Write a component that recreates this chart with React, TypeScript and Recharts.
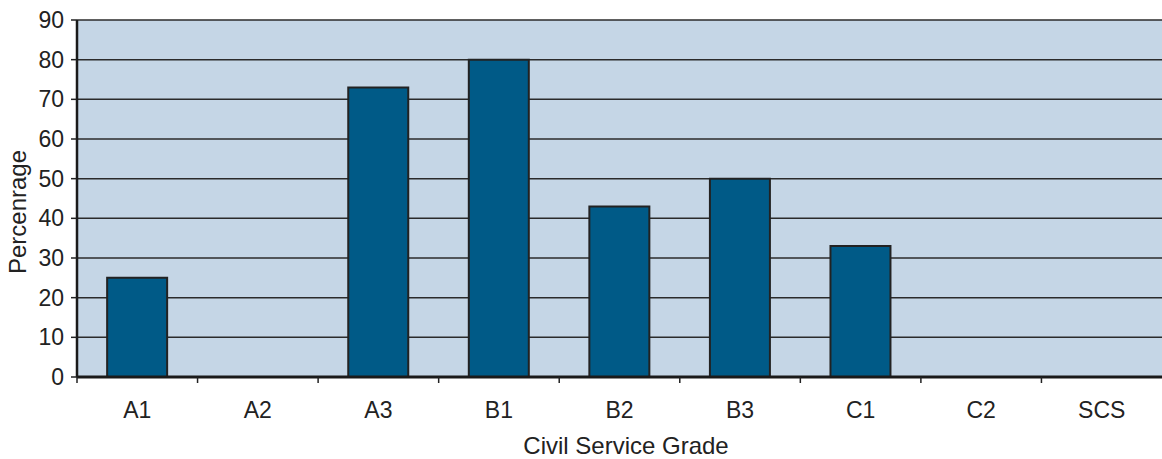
import { BarChart, Bar, XAxis, YAxis, CartesianGrid, Label } from "recharts";

const grades = ["A1", "A2", "A3", "B1", "B2", "B3", "C1", "C2", "SCS"];
const percentages = [25, 0, 73, 80, 43, 50, 33, 0, 0];
const yTicks = [0, 10, 20, 30, 40, 50, 60, 70, 80, 90];

const data = grades.map((grade, i) => ({ grade, value: percentages[i] }));

const FONT = "'Liberation Sans', Arial, sans-serif";

// category label in the middle, tick mark on the left band edge
const GradeTick = ({ x, y, payload }: any) => {
  const edge = x - (payload.offset || 0);
  return (
    <g>
      <line x1={edge} y1={y - 8} x2={edge} y2={y - 2} stroke="#222" strokeWidth={1.5} />
      <text x={x} y={y + 33} textAnchor="middle" fontSize={23} fill="#222" fontFamily={FONT}>
        {payload.value}
      </text>
    </g>
  );
};

const YTitle = () => (
  <text
    transform="translate(17,212) rotate(-90)"
    textAnchor="middle"
    dominantBaseline="central"
    fontSize={24}
    fill="#222"
    fontFamily={FONT}
  >
    Percenrage
  </text>
);

const XTitle = () => (
  <text x={626} y={454} textAnchor="middle" fontSize={24} fill="#222" fontFamily={FONT}>
    Civil Service Grade
  </text>
);

const App = () => {
  return (
    <div style={{ position: "absolute", left: 0, top: 0, background: "#fff" }}>
      <BarChart
        width={1162}
        height={459}
        data={data}
        margin={{ top: 20, right: 0, left: 0, bottom: 0 }}
        barCategoryGap="25%"
      >
        <CartesianGrid
          vertical={false}
          stroke="#2b2b2b"
          strokeWidth={1.5}
          fill="#c5d6e6"
          fillOpacity={1}
          horizontalValues={yTicks}
        />
        <XAxis
          dataKey="grade"
          height={82}
          axisLine={{ stroke: "#1a1a1a", strokeWidth: 3 }}
          tickLine={false}
          tick={<GradeTick />}
          interval={0}
        >
          <Label content={<XTitle />} />
        </XAxis>
        <YAxis
          width={77}
          domain={[0, 90]}
          ticks={yTicks}
          interval={0}
          axisLine={{ stroke: "#1a1a1a", strokeWidth: 2.5 }}
          tickLine={{ stroke: "#222", strokeWidth: 1.5 }}
          tickSize={6}
          tickMargin={7}
          tick={{ fontSize: 23, fill: "#222", fontFamily: FONT }}
        >
          <Label content={<YTitle />} />
        </YAxis>
        <Bar
          dataKey="value"
          fill="#005a87"
          stroke="#222"
          strokeWidth={2}
          isAnimationActive={false}
        />
      </BarChart>
    </div>
  );
};

export default App;
